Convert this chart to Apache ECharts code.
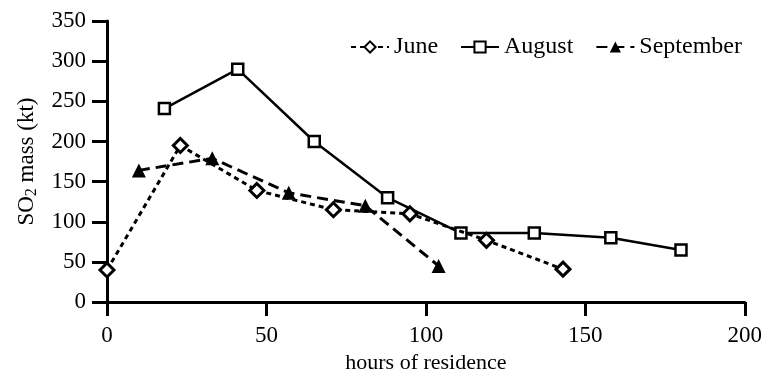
<!DOCTYPE html>
<html>
<head>
<meta charset="utf-8">
<script src="https://cdn.jsdelivr.net/npm/echarts@6/dist/echarts.min.js"></script>
<style>
  html, body { margin: 0; padding: 0; background: #fff; }
  #chart { width: 765px; height: 379px; }
</style>
</head>
<body>
<div id="chart"></div>
<script>
// values: [hours, kt]
const juneData = [[0, 40], [23, 195], [47, 139], [71, 115], [95, 110], [119, 77], [143, 41]];
const augustData = [[18, 241], [41, 290], [65, 200], [88, 130], [111, 86], [134, 86], [158, 80], [180, 65]];
const septemberData = [[10, 164], [33, 179], [57, 136], [81, 120], [104, 45]];
const seriesNames = ['June', 'August', 'September'];

const font = 'Liberation Serif';
const black = '#000';

const chart = echarts.init(document.getElementById('chart'));

const option = {
  animation: false,
  textStyle: { fontFamily: font, color: black },
  grid: { left: 107, right: 20, top: 21, bottom: 74 },
  legend: {
    data: seriesNames,
    right: 18,
    top: 30,
    itemWidth: 38,
    itemHeight: 14,
    itemGap: 22,
    textStyle: { fontFamily: font, fontSize: 24, color: black },
  },
  xAxis: {
    type: 'value',
    min: 0,
    max: 200,
    interval: 50,
    name: 'hours of residence',
    nameLocation: 'middle',
    nameGap: 47,
    nameTextStyle: { fontFamily: font, fontSize: 22, color: black },
    splitLine: { show: false },
    axisLine: { show: true, onZero: false, lineStyle: { color: black, width: 3 } },
    axisTick: { show: true, length: 14, lineStyle: { color: black, width: 3 } },
    axisLabel: { fontFamily: font, fontSize: 23, color: black, margin: 22 },
  },
  yAxis: {
    type: 'value',
    min: 0,
    max: 350,
    interval: 50,
    name: '{a|SO}{b|2}{a| mass (kt)}',
    nameLocation: 'middle',
    nameGap: 67,
    nameRotate: 90,
    nameTextStyle: {
      fontFamily: font,
      color: black,
      rich: {
        a: { fontFamily: font, fontSize: 23, lineHeight: 27, color: black },
        b: { fontFamily: font, fontSize: 16, lineHeight: 16, verticalAlign: 'bottom', color: black },
      },
    },
    splitLine: { show: false },
    axisLine: { show: true, onZero: false, lineStyle: { color: black, width: 3 } },
    axisTick: { show: true, length: 15, lineStyle: { color: black, width: 3 } },
    axisLabel: { fontFamily: font, fontSize: 23, color: black, margin: 21 },
  },
  series: [
    {
      name: 'June',
      type: 'line',
      data: juneData,
      symbol: 'diamond',
      symbolSize: 14,
      lineStyle: { color: black, width: 3, type: [5, 4] },
      itemStyle: { color: '#fff', borderColor: black, borderWidth: 3 },
      z: 3,
    },
    {
      name: 'August',
      type: 'line',
      data: augustData,
      symbol: 'rect',
      symbolSize: 11,
      lineStyle: { color: black, width: 2.5, type: 'solid' },
      itemStyle: { color: '#fff', borderColor: black, borderWidth: 2.5 },
      z: 2,
    },
    {
      name: 'September',
      type: 'line',
      data: septemberData,
      symbol: 'triangle',
      symbolSize: 14,
      lineStyle: { color: black, width: 3, type: [11, 6] },
      itemStyle: { color: black, borderColor: black, borderWidth: 0 },
      z: 4,
    },
  ],
};

chart.setOption(option);
</script>
</body>
</html>
